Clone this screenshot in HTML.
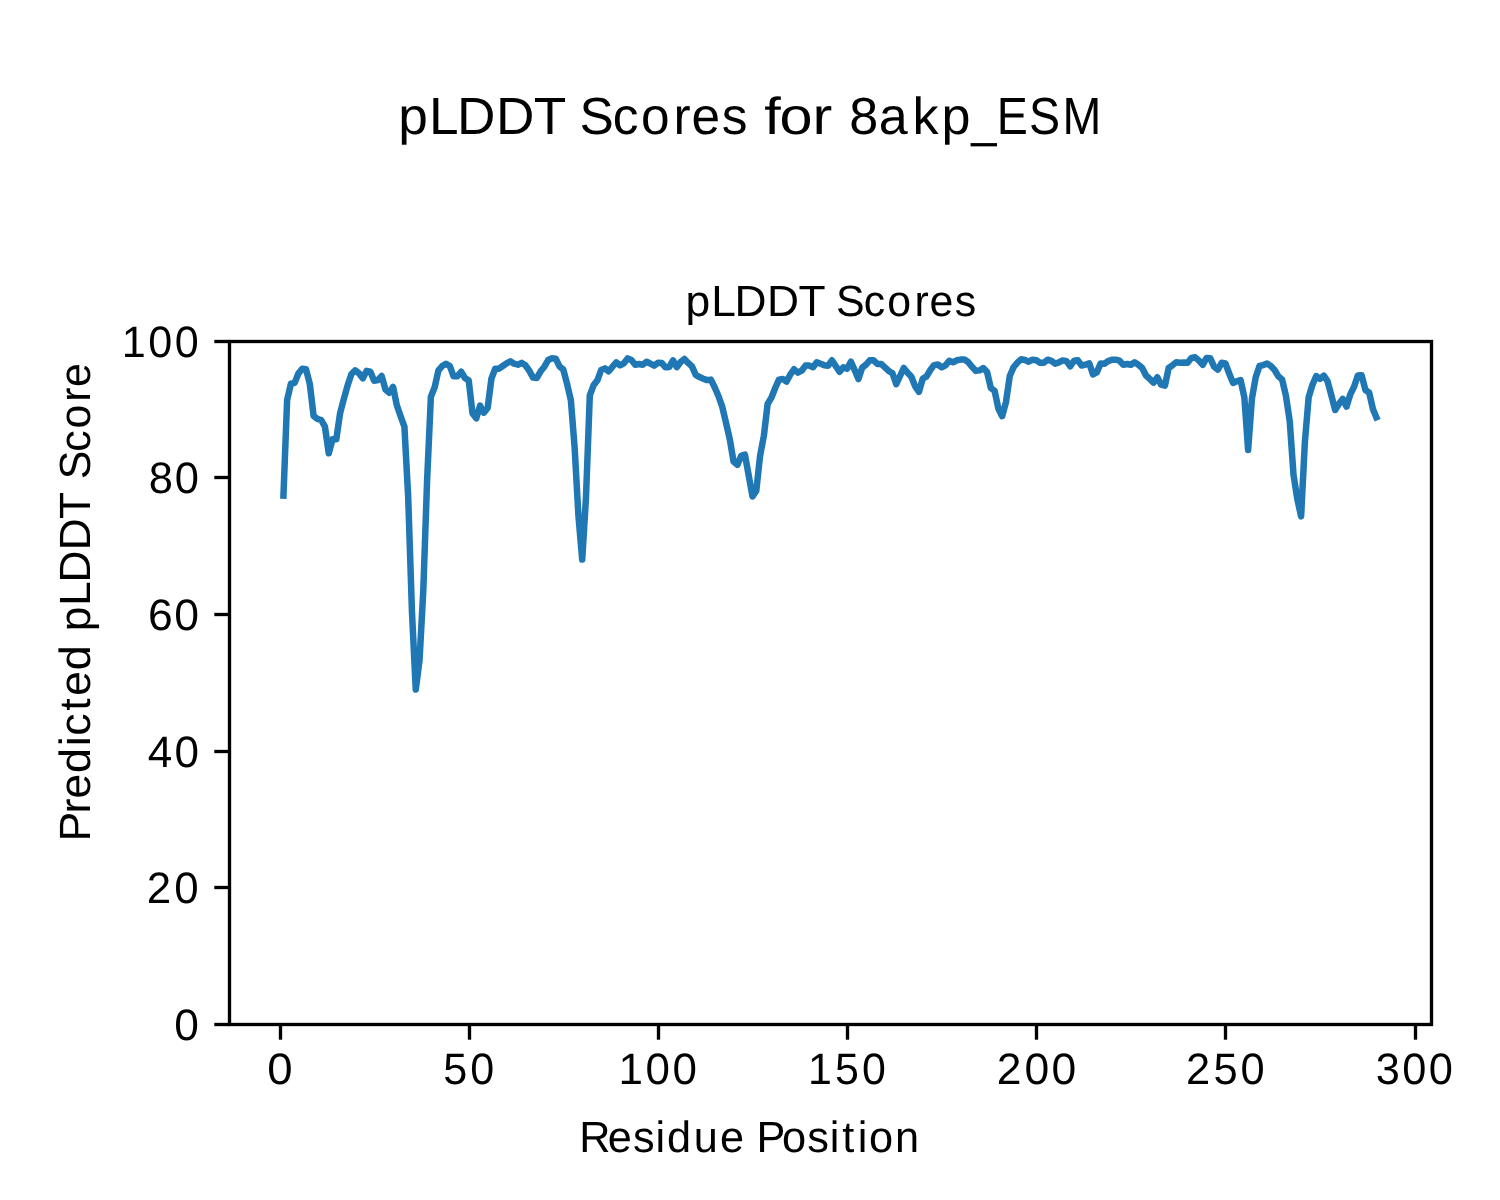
<!DOCTYPE html>
<html><head><meta charset="utf-8"><title>pLDDT Scores for 8akp_ESM</title>
<style>
html,body{margin:0;padding:0;background:#fff;}
body{width:1500px;height:1200px;overflow:hidden;font-family:"Liberation Sans",sans-serif;}
svg{display:block;}
text{font-family:"Liberation Sans",sans-serif;fill:#000;text-rendering:geometricPrecision;}
</style></head><body>
<svg width="1500" height="1200" viewBox="0 0 1500 1200">
<rect width="1500" height="1200" fill="#fff"/>
<polyline fill="none" stroke="#1f77b4" stroke-width="6.5" stroke-linejoin="round" stroke-linecap="butt" points="283.33,498.8 287.12,400.0 290.90,383.7 294.68,382.9 298.47,373.3 302.25,368.8 306.03,369.3 309.82,384.0 313.60,416.0 317.38,418.9 321.17,420.0 324.95,426.7 328.74,453.3 332.52,439.3 336.30,439.3 340.09,413.3 343.87,398.7 347.65,385.3 351.44,374.0 355.22,370.4 359.00,373.3 362.79,378.4 366.57,370.9 370.35,371.7 374.14,380.7 377.92,380.0 381.70,376.0 385.49,389.6 389.27,392.7 393.06,386.9 396.84,405.3 400.62,416.3 404.41,426.7 408.19,497.0 411.97,612.0 415.76,689.5 419.54,660.0 423.32,590.0 427.11,480.0 430.89,396.7 434.67,387.3 438.46,370.4 442.24,366.0 446.02,363.7 449.81,366.0 453.59,376.3 457.37,376.3 461.16,371.7 464.94,378.0 468.73,380.5 472.51,413.3 476.29,418.3 480.08,405.7 483.86,412.7 487.64,408.0 491.43,378.7 495.21,368.7 498.99,368.7 502.78,366.0 506.56,363.3 510.34,361.3 514.13,363.7 517.91,364.7 521.69,362.9 525.48,365.3 529.26,370.7 533.04,377.6 536.83,378.0 540.61,371.3 544.39,366.7 548.18,360.0 551.96,358.3 555.75,358.7 559.53,366.4 563.31,369.6 567.10,384.0 570.88,400.3 574.66,448.0 578.45,516.0 582.23,559.6 586.01,497.0 589.80,395.3 593.58,385.3 597.36,380.3 601.15,370.0 604.93,368.4 608.71,371.3 612.50,366.7 616.28,362.4 620.07,365.3 623.85,363.3 627.63,358.4 631.42,360.0 635.20,364.7 638.98,364.0 642.77,364.7 646.55,361.7 650.33,363.7 654.12,365.6 657.90,362.8 661.68,362.9 665.47,367.3 669.25,366.9 673.03,360.3 676.82,367.1 680.60,362.0 684.38,358.9 688.17,362.9 691.95,366.4 695.74,374.9 699.52,377.1 703.30,378.7 707.09,380.1 710.87,379.6 714.65,387.3 718.44,396.0 722.22,406.7 726.00,422.7 729.79,439.3 733.57,461.6 737.35,464.9 741.14,455.9 744.92,454.7 748.70,475.3 752.49,496.5 756.27,491.0 760.05,456.0 763.84,436.0 767.62,404.0 771.40,397.7 775.19,388.0 778.97,379.6 782.76,378.9 786.54,381.6 790.32,374.4 794.11,369.3 797.89,372.7 801.67,370.7 805.46,365.6 809.24,365.6 813.02,367.3 816.81,362.3 820.59,363.7 824.37,365.3 828.16,365.7 831.94,360.3 835.72,366.0 839.51,371.8 843.29,367.4 847.08,368.8 850.86,361.7 854.64,370.1 858.43,379.1 862.21,367.6 865.99,364.7 869.78,360.3 873.56,360.3 877.34,363.9 881.13,363.9 884.91,367.3 888.69,370.9 892.48,373.3 896.26,384.2 900.04,376.0 903.83,368.0 907.61,372.7 911.39,376.7 915.18,386.4 918.96,391.8 922.75,378.7 926.53,376.4 930.31,370.0 934.10,365.1 937.88,364.4 941.66,367.3 945.45,365.3 949.23,360.9 953.01,362.3 956.80,360.3 960.58,359.6 964.36,359.5 968.15,362.0 971.93,366.7 975.71,370.9 979.50,370.4 983.28,368.0 987.06,372.0 990.85,388.0 994.63,390.9 998.41,408.7 1002.20,416.2 1005.98,402.0 1009.77,376.0 1013.55,367.3 1017.33,362.7 1021.12,359.3 1024.90,360.0 1028.68,361.7 1032.47,359.7 1036.25,360.3 1040.03,362.8 1043.82,362.7 1047.60,359.7 1051.38,360.9 1055.17,363.7 1058.95,362.4 1062.73,360.4 1066.52,361.1 1070.30,366.3 1074.09,360.7 1077.87,360.3 1081.65,365.6 1085.44,364.7 1089.22,363.3 1093.00,374.4 1096.79,372.4 1100.57,363.6 1104.35,363.7 1108.14,361.1 1111.92,359.7 1115.70,359.7 1119.49,360.7 1123.27,364.7 1127.05,364.0 1130.84,364.8 1134.62,362.3 1138.40,364.7 1142.19,368.0 1145.97,375.5 1149.76,378.9 1153.54,382.7 1157.32,377.3 1161.11,384.7 1164.89,385.7 1168.67,368.0 1172.46,365.3 1176.24,362.3 1180.02,362.7 1183.81,362.4 1187.59,362.7 1191.37,358.0 1195.16,357.3 1198.94,360.7 1202.72,364.9 1206.51,358.0 1210.29,358.3 1214.07,366.7 1217.86,369.6 1221.64,362.7 1225.42,363.5 1229.21,373.5 1232.99,382.9 1236.78,381.3 1240.56,380.0 1244.34,397.3 1248.13,450.0 1251.91,398.7 1255.69,377.3 1259.48,366.0 1263.26,365.1 1267.04,363.6 1270.83,366.0 1274.61,370.0 1278.39,376.3 1282.18,379.7 1285.96,396.0 1289.74,421.3 1293.53,475.0 1297.31,499.0 1301.10,516.4 1304.88,442.0 1308.66,397.3 1312.45,384.7 1316.23,376.0 1320.01,378.9 1323.80,375.6 1327.58,381.3 1331.36,395.3 1335.15,410.0 1338.93,404.0 1342.71,398.9 1346.50,406.7 1350.28,394.4 1354.06,386.7 1357.85,375.6 1361.63,375.2 1365.41,390.0 1369.20,392.7 1372.98,409.3 1377.56,420.3"/>
<rect x="229.5" y="341.5" width="1202.0" height="683.00" fill="none" stroke="#000" stroke-width="3.33" stroke-linejoin="miter"/>
<line x1="280.50" y1="1024.5" x2="280.50" y2="1039.7" stroke="#000" stroke-width="3.33"/>
<line x1="469.50" y1="1024.5" x2="469.50" y2="1039.7" stroke="#000" stroke-width="3.33"/>
<line x1="658.50" y1="1024.5" x2="658.50" y2="1039.7" stroke="#000" stroke-width="3.33"/>
<line x1="847.50" y1="1024.5" x2="847.50" y2="1039.7" stroke="#000" stroke-width="3.33"/>
<line x1="1036.50" y1="1024.5" x2="1036.50" y2="1039.7" stroke="#000" stroke-width="3.33"/>
<line x1="1225.50" y1="1024.5" x2="1225.50" y2="1039.7" stroke="#000" stroke-width="3.33"/>
<line x1="1415.50" y1="1024.5" x2="1415.50" y2="1039.7" stroke="#000" stroke-width="3.33"/>
<line x1="229.5" y1="1024.50" x2="214.3" y2="1024.50" stroke="#000" stroke-width="3.33"/>
<line x1="229.5" y1="887.50" x2="214.3" y2="887.50" stroke="#000" stroke-width="3.33"/>
<line x1="229.5" y1="751.50" x2="214.3" y2="751.50" stroke="#000" stroke-width="3.33"/>
<line x1="229.5" y1="614.50" x2="214.3" y2="614.50" stroke="#000" stroke-width="3.33"/>
<line x1="229.5" y1="477.50" x2="214.3" y2="477.50" stroke="#000" stroke-width="3.33"/>
<line x1="229.5" y1="341.50" x2="214.3" y2="341.50" stroke="#000" stroke-width="3.33"/>
<g opacity="0.999">
<text transform="translate(0,133.75) scale(1.0193,1)" font-size="52.2" x="390.70 420.91 448.47 486.58 523.59">pLDDT</text>
<text transform="translate(0,133.75) scale(0.9843,1)" font-size="52.2" x="588.79 622.53 651.33 684.28 702.62 733.35">Scores</text>
<text transform="translate(0,133.75) scale(1.1380,1)" font-size="52.2" x="671.59 685.04 714.08">for</text>
<text transform="translate(0,133.75) scale(0.9978,1)" font-size="52.2" x="851.20 880.75 914.50 943.49">8akp</text><text transform="translate(0,133.75) scale(0.8715,1)" font-size="52.2" x="1114.39" y="2.4">_</text><text transform="translate(0,133.75) scale(0.8921,1)" font-size="52.2" x="1117.25 1153.40 1191.11">ESM</text>
<text transform="translate(0,315.60) scale(1.0159,1)" font-size="43.7" x="674.73 700.02 723.09 755.00 785.98">pLDDT</text>
<text transform="translate(0,315.60) scale(0.9803,1)" font-size="43.7" x="852.86 881.10 905.21 932.79 948.15 973.87">Scores</text>
<text transform="translate(0,1151.70) scale(0.9904,1)" font-size="43.7" x="584.98 613.75 639.15 661.80 673.46 700.39 726.91">Residue</text>
<text transform="translate(0,1151.70) scale(0.9921,1)" font-size="43.7" x="762.44 788.25 813.63 836.25 849.02 864.48 875.91 902.23">Position</text>
<text transform="translate(90.0,835.8) rotate(-90) scale(1.0245,1)" font-size="43.7" x="-5.64 21.67 36.11 61.22 87.34 97.59 121.99 136.59 161.70">Predicted</text>
<text transform="translate(90.0,835.8) rotate(-90) scale(1.0103,1)" font-size="43.7" x="202.43 227.71 250.79 282.69 313.68">pLDDT</text>
<text transform="translate(90.0,835.8) rotate(-90) scale(0.9802,1)" font-size="43.7" x="363.84 391.77 415.58 442.87 457.99">Score</text>
<text transform="translate(0,1083.90) scale(1.0365,1)" font-size="44.0" x="257.82">0</text>
<text transform="translate(0,1083.90) scale(0.9798,1)" font-size="44.0" x="452.51 480.00">50</text>
<text transform="translate(0,1083.90) scale(0.9995,1)" font-size="44.0" x="618.75 645.90 672.84">100</text>
<text transform="translate(0,1083.90) scale(0.9759,1)" font-size="44.0" x="828.05 855.57 883.21">150</text>
<text transform="translate(0,1083.90) scale(1.0106,1)" font-size="44.0" x="986.30 1013.72 1040.59">200</text>
<text transform="translate(0,1083.90) scale(0.9872,1)" font-size="44.0" x="1201.31 1229.11 1256.67">250</text>
<text transform="translate(0,1083.90) scale(0.9866,1)" font-size="44.0" x="1394.33 1421.18 1448.09">300</text>
<text transform="translate(0,1040.00) scale(1.0079,1)" font-size="44.0" x="172.90">0</text>
<text transform="translate(0,903.00) scale(0.9973,1)" font-size="44.0" x="147.21 174.80">20</text>
<text transform="translate(0,767.00) scale(1.0021,1)" font-size="44.0" x="147.48 174.04">40</text>
<text transform="translate(0,630.00) scale(1.0123,1)" font-size="44.0" x="146.12 172.23">60</text>
<text transform="translate(0,493.00) scale(0.9883,1)" font-size="44.0" x="150.43 176.85">80</text>
<text transform="translate(0,357.00) scale(0.9804,1)" font-size="44.0" x="124.15 151.30 178.24">100</text>
</g>
</svg>
</body></html>
